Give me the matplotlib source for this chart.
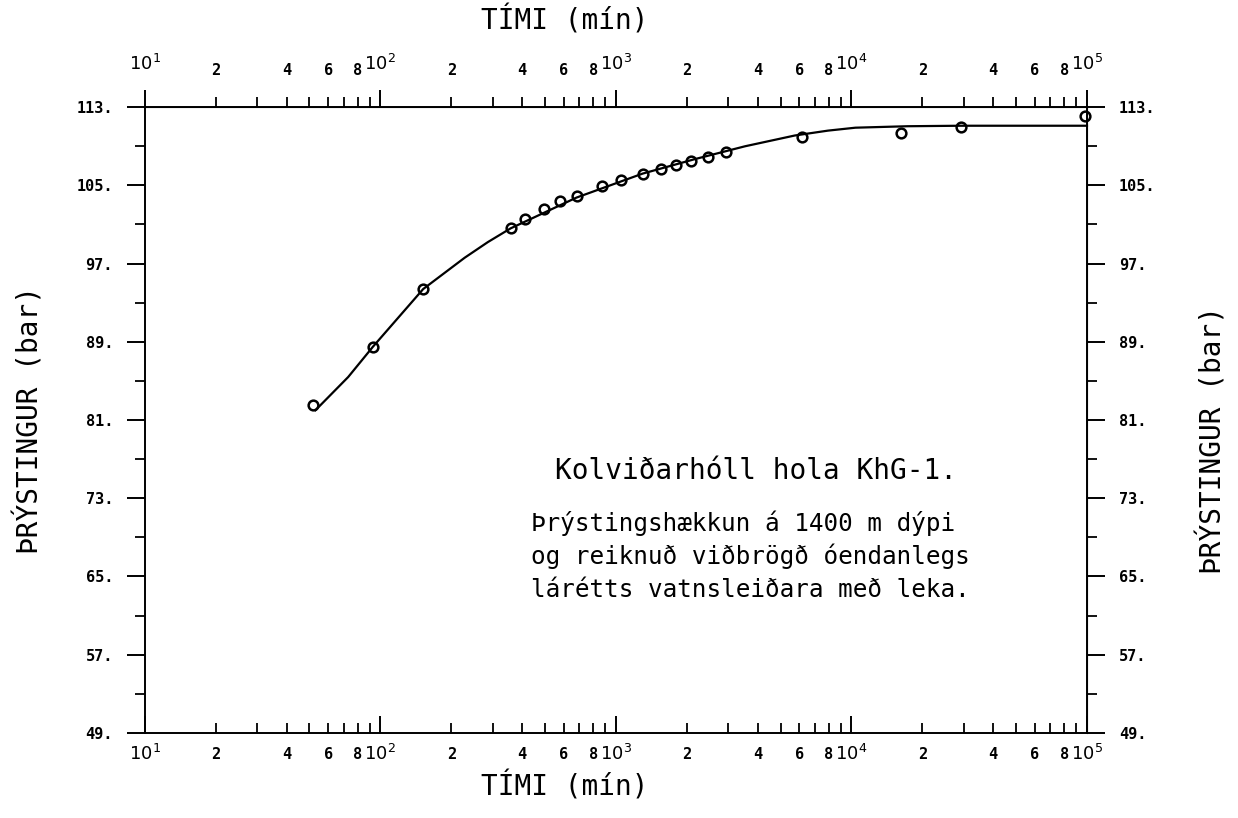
import matplotlib
matplotlib.use("Agg")
import matplotlib.pyplot as plt
from matplotlib.ticker import FixedLocator, FixedFormatter

plt.rcParams['font.family'] = ['DejaVu Sans Mono', 'DejaVu Sans']
plt.rcParams['mathtext.fontset'] = 'dejavusans'

# measured pressure at 1400 m (time in minutes, pressure in bar)
t_obs = [52, 93, 152, 357, 413, 497, 581, 682, 872, 1054, 1297, 1550,
         1805, 2086, 2462, 2941, 6140, 16300, 29200, 98000]
p_obs = [82.5, 88.5, 94.4, 100.6, 101.6, 102.6, 103.4, 103.9, 104.9, 105.5,
         106.2, 106.7, 107.1, 107.5, 107.9, 108.4, 109.9, 110.4, 111.0, 112.1]

# computed response, leaky infinite aquifer
t_fit = [53, 73, 93, 152, 228, 286, 357, 680, 1297, 2175, 3535, 5745,
         7950, 10400, 17350, 29200, 56000, 100000]
p_fit = [82.0, 85.4, 88.5, 94.4, 97.6, 99.2, 100.6, 103.75, 106.2, 107.7,
         109.0, 110.1, 110.6, 110.9, 111.05, 111.1, 111.1, 111.1]

y_major = [49, 57, 65, 73, 81, 89, 97, 105, 113]
y_minor = [53, 61, 69, 77, 85, 93, 101, 109]
x_major = [1e1, 1e2, 1e3, 1e4, 1e5]
x_major_lbl = [r'$10^{1}$', r'$10^{2}$', r'$10^{3}$', r'$10^{4}$', r'$10^{5}$']
subs = [2, 3, 4, 5, 6, 7, 8, 9]
sub_lbl = {2: '2', 4: '4', 6: '6', 8: '8'}

fig = plt.figure(figsize=(12.38, 8.18), dpi=100)
ax = fig.add_axes([0.117, 0.104, 0.761, 0.765])

ax.plot(t_fit, p_fit, color='black', lw=1.6, clip_on=False)
ax.plot(t_obs, p_obs, linestyle='none', marker='o', ms=7, mfc='none',
        mec='black', mew=1.8, clip_on=False)

ax.set_xscale('log')
ax.set_xlim(10, 1e5)
ax.set_ylim(49, 113)

x_minor = [s * 10 ** d for d in range(1, 5) for s in subs]
x_minor_lbl = [sub_lbl.get(s, '') for d in range(1, 5) for s in subs]

for spine in ax.spines.values():
    spine.set_linewidth(1.4)

def setup_x(axis, direction, pad):
    axis.xaxis.set_major_locator(FixedLocator(x_major))
    axis.xaxis.set_major_formatter(FixedFormatter(x_major_lbl))
    axis.xaxis.set_minor_locator(FixedLocator(x_minor))
    axis.xaxis.set_minor_formatter(FixedFormatter(x_minor_lbl))
    axis.tick_params(axis='x', which='major', direction=direction, length=12,
                     width=1.4, labelsize=13, pad=pad)
    axis.tick_params(axis='x', which='minor', direction=direction, length=7,
                     width=1.3, labelsize=11, pad=pad + 2)
    for lbl in axis.get_xticklabels(which='both'):
        lbl.set_fontweight('bold')

def setup_y(axis):
    axis.yaxis.set_major_locator(FixedLocator(y_major))
    axis.yaxis.set_major_formatter(FixedFormatter([f'{v}.' for v in y_major]))
    axis.yaxis.set_minor_locator(FixedLocator(y_minor))
    axis.tick_params(axis='y', which='major', direction='out', length=13,
                     width=1.4, labelsize=11, pad=10)
    axis.tick_params(axis='y', which='minor', direction='out', length=7,
                     width=1.3)
    for lbl in axis.get_yticklabels():
        lbl.set_fontweight('bold')

setup_x(ax, 'in', 8)
setup_y(ax)

top = ax.secondary_xaxis('top')
setup_x(top, 'out', 12)

right = ax.secondary_yaxis('right')
setup_y(right)

# axis titles on all four sides
fig.text(0.456, 0.038, 'TÍMI (mín)', fontsize=20, ha='center', va='center')
fig.text(0.456, 0.975, 'TÍMI (mín)', fontsize=20, ha='center', va='center')
fig.text(0.024, 0.487, 'ÞRÝSTINGUR (bar)', fontsize=20, rotation=90,
         ha='center', va='center')
fig.text(0.979, 0.462, 'ÞRÝSTINGUR (bar)', fontsize=20, rotation=90,
         ha='center', va='center')

ax.text(0.649, 0.418, 'Kolviðarhóll hola KhG-1.', transform=ax.transAxes,
        ha='center', va='center', fontsize=20)
notes = ['Þrýstingshækkun á 1400 m dýpi',
         'og reiknuð viðbrögð óendanlegs',
         'lárétts vatnsleiðara með leka.']
for i, line in enumerate(notes):
    ax.text(0.41, 0.335 - i * 0.053, line, transform=ax.transAxes,
            ha='left', va='center', fontsize=17.5)

fig.savefig('out.png', dpi=100)
